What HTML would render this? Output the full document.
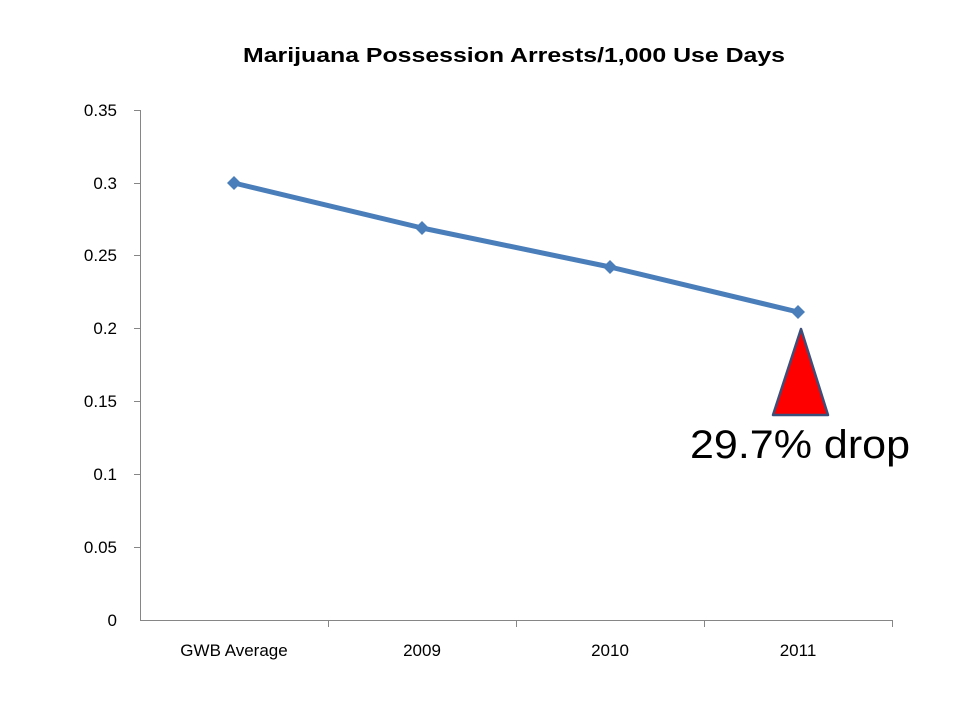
<!DOCTYPE html>
<html><head><style>body{margin:0;background:#fff}svg{display:block}</style></head>
<body>
<svg width="960" height="720" xmlns="http://www.w3.org/2000/svg" font-family="Liberation Sans, sans-serif">
<text x="514" y="62" text-anchor="middle" font-size="20" font-weight="bold" textLength="542" lengthAdjust="spacingAndGlyphs">Marijuana Possession Arrests/1,000 Use Days</text>
<g stroke="#868686" stroke-width="1">
<line x1="140.5" y1="110" x2="140.5" y2="620"/>
<line x1="140" y1="620.5" x2="892" y2="620.5"/>
<line x1="134" y1="110.5" x2="140" y2="110.5"/>
<line x1="134" y1="183.5" x2="140" y2="183.5"/>
<line x1="134" y1="255.5" x2="140" y2="255.5"/>
<line x1="134" y1="328.5" x2="140" y2="328.5"/>
<line x1="134" y1="401.5" x2="140" y2="401.5"/>
<line x1="134" y1="474.5" x2="140" y2="474.5"/>
<line x1="134" y1="547.5" x2="140" y2="547.5"/>
<line x1="328.5" y1="620" x2="328.5" y2="627"/>
<line x1="516.5" y1="620" x2="516.5" y2="627"/>
<line x1="704.5" y1="620" x2="704.5" y2="627"/>
<line x1="892.5" y1="620" x2="892.5" y2="627"/>
</g>
<g font-size="17" text-anchor="end">
<text x="117" y="116">0.35</text>
<text x="117" y="189">0.3</text>
<text x="117" y="261">0.25</text>
<text x="117" y="334">0.2</text>
<text x="117" y="407">0.15</text>
<text x="117" y="480">0.1</text>
<text x="117" y="553">0.05</text>
<text x="117" y="626">0</text>
</g>
<g font-size="17" text-anchor="middle">
<text x="234" y="656">GWB Average</text>
<text x="422" y="656">2009</text>
<text x="610" y="656">2010</text>
<text x="798" y="656">2011</text>
</g>
<polyline points="234,183 422,228 610,267 798,312" fill="none" stroke="#4a7ebb" stroke-width="5" stroke-linejoin="round"/>
<g fill="#4a7ebb">
<polygon points="234,176 241,183 234,190 227,183"/>
<polygon points="422,221 429,228 422,235 415,228"/>
<polygon points="610,260 617,267 610,274 603,267"/>
<polygon points="798,305 805,312 798,319 791,312"/>
</g>
<polygon points="801,329 773,415 828,415" fill="#ff0000" stroke="#3c4f7a" stroke-width="2.5" stroke-linejoin="round"/>
<text x="690" y="458" font-size="40" textLength="220" lengthAdjust="spacingAndGlyphs">29.7% drop</text>
</svg>
</body></html>
